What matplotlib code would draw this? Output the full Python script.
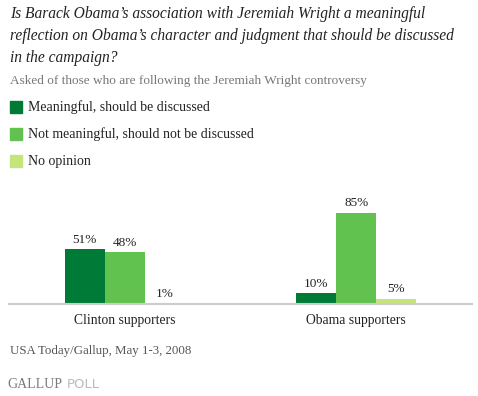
import numpy as np
import matplotlib.pyplot as plt

groups = ['Clinton supporters', 'Obama supporters']
series = ['Meaningful, should be discussed', 'Not meaningful, should not be discussed', 'No opinion']
meaningful = [51, 10]
not_meaningful = [48, 85]
no_opinion = [1, 5]
colors = ['#007a37', '#62c250', '#c5e57a']

title = ("Is Barack Obama\u2019s association with Jeremiah Wright a meaningful\n"
         "reflection on Obama\u2019s character and judgment that should be discussed\n"
         "in the campaign?")
subtitle = 'Asked of those who are following the Jeremiah Wright controversy'
source = 'USA Today/Gallup, May 1-3, 2008'

fig = plt.figure(figsize=(4.78, 3.96), dpi=100)
W, H = 478, 396

def fx(px):
    return px / W

def fy(py):
    return 1 - py / H

serif = 'Liberation Serif'

# title and subtitle
fig.text(fx(10), fy(6), title, ha='left', va='top', fontsize=11.2, style='italic',
         family=serif, color='#222222', linespacing=1.5)
fig.text(fx(10), fy(81), subtitle, ha='left', va='center', fontsize=9.5,
         family=serif, color='#777777')

# legend
for i, (name, c) in enumerate(zip(series, colors)):
    yc = 107 + i * 27
    fig.patches.append(plt.Rectangle((fx(10), fy(yc + 6)), fx(12), 12 / H,
                                     transform=fig.transFigure, color=c))
    fig.text(fx(28), fy(yc), name, ha='left', va='center', fontsize=10,
             family=serif, color='#222222')

# bars
ax = fig.add_axes([fx(9), fy(304), fx(463), 107.5 / H])
x = np.arange(len(groups))
w = 0.1734
for i, (vals, c) in enumerate(zip([meaningful, not_meaningful, no_opinion], colors)):
    pos = x + (i - 1) * w
    ax.bar(pos, vals, w, color=c, edgecolor='none')
    for p, v in zip(pos, vals):
        ax.text(p, v + 3, f'{v}%', ha='center', va='bottom', fontsize=9.5,
                family=serif, color='#222222', clip_on=False)

ax.set_xlim(-0.5, 1.5)
ax.set_ylim(0, 100)
for s in ['top', 'right', 'left']:
    ax.spines[s].set_visible(False)
ax.spines['bottom'].set_color('#cccccc')
ax.spines['bottom'].set_linewidth(1.5)
ax.set_yticks([])
ax.set_xticks(x)
ax.set_xticklabels(groups, fontsize=9.8, family=serif, color='#222222')
ax.tick_params(axis='x', length=0, pad=7)

fig.text(fx(10), fy(351), source, ha='left', va='center', fontsize=9.3,
         family=serif, color='#555555')
fig.text(fx(7), fy(384), 'GALLUP', ha='left', va='center', fontsize=10,
         family=serif, color='#7a7a7a')
fig.text(fx(67), fy(384), 'POLL', ha='left', va='center', fontsize=9.5,
         family='DejaVu Sans', color='#bbbbbb')

fig.savefig('out.png', dpi=100)
